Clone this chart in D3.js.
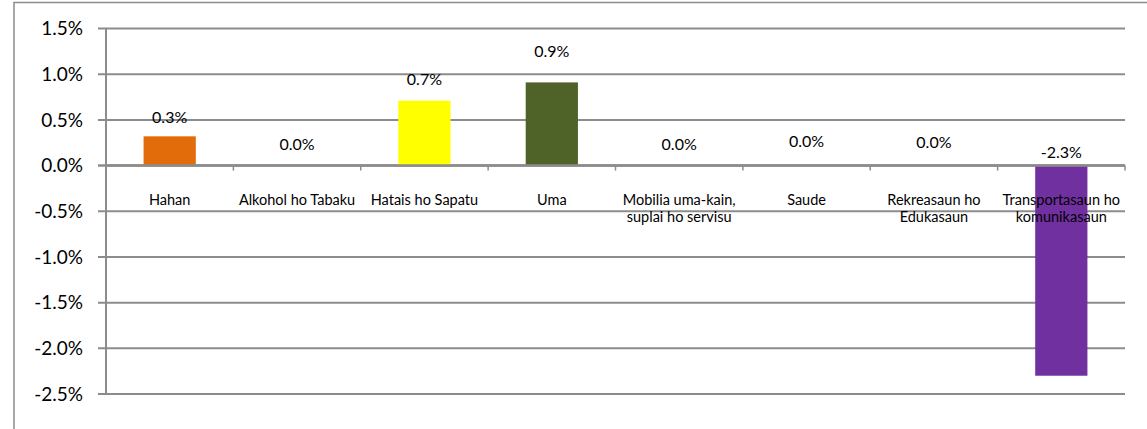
<!DOCTYPE html>
<html><head><meta charset="utf-8">
<script src="https://cdn.jsdelivr.net/npm/d3@7"></script>
<style>
body{margin:0;background:#fff;}
svg{display:block;font-family:Lato,"Open Sans",sans-serif;}
</style></head>
<body><svg id="c" width="1147" height="429"></svg>
<script>
const categories = ["Hahan","Alkohol ho Tabaku","Hatais ho Sapatu","Uma","Mobilia uma-kain,\nsuplai ho servisu","Saude","Rekreasaun ho\nEdukasaun","Transportasaun ho\nkomunikasaun"];
const values = [0.32, 0.0, 0.71, 0.91, 0.0, 0.0, 0.0, -2.30];
const valueLabels = ["0.3%","0.0%","0.7%","0.9%","0.0%","0.0%","0.0%","-2.3%"];
const barColors = ["#E36C0A","#A6A6A6","#FFFF00","#4F6228","#A6A6A6","#A6A6A6","#A6A6A6","#7030A0"];
const yTicks = [1.5,1.0,0.5,0.0,-0.5,-1.0,-1.5,-2.0,-2.5];

// layout: small manual nudges of the data labels (as placed in the original chart)
const labelNudge = [0,-2,-2,-12,-2,-5,-4,0];

const svg = d3.select("#c");
const grid = "#8c8c8c";
// outer frame
svg.append("rect").attr("x",14).attr("y",2.5).attr("width",1200).attr("height",500)
  .attr("fill","none").attr("stroke",grid).attr("stroke-width",1.5);

const x = d3.scaleBand().domain(categories).range([106,1125]).paddingInner(0.59).paddingOuter(0.295);
const xb = d3.scaleBand().domain(categories).range([106,1125]);
const y = d3.scaleLinear().domain([-2.5,1.5]).range([394,28.5]);

// gridlines
svg.append("g").selectAll("line").data(yTicks).join("line")
  .attr("x1",98).attr("x2",1125).attr("y1",d=>y(d)).attr("y2",d=>y(d))
  .attr("stroke",grid).attr("stroke-width",d=>d===0?2.5:2);

// y axis line
svg.append("line").attr("x1",106).attr("x2",106).attr("y1",y(1.5)).attr("y2",y(-2.5))
  .attr("stroke",grid).attr("stroke-width",2);

// y tick labels
svg.append("g").selectAll("text").data(yTicks).join("text")
  .attr("x",83).attr("y",d=>y(d)).attr("dy","0.36em").attr("text-anchor","end")
  .attr("font-size",19).attr("fill","#000").text(d=>d3.format(".1f")(d).replace("\u2212","-")+"%");

// x category ticks
svg.append("g").selectAll("line").data(d3.range(categories.length+1)).join("line")
  .attr("x1",i=>106+xb.step()*i).attr("x2",i=>106+xb.step()*i)
  .attr("y1",y(0)).attr("y2",y(0)+5).attr("stroke",grid).attr("stroke-width",1.5);

// bars
svg.append("g").selectAll("rect").data(values).join("rect")
  .attr("x",(d,i)=>x(categories[i])).attr("width",x.bandwidth())
  .attr("y",d=>y(Math.max(0,d))).attr("height",d=>Math.abs(y(d)-y(0)))
  .attr("fill",(d,i)=>barColors[i]);

// redraw zero line over bar bases
svg.append("line").attr("x1",106).attr("x2",1125).attr("y1",y(0)).attr("y2",y(0))
  .attr("stroke",grid).attr("stroke-width",2.5);

// value labels
svg.append("g").selectAll("text").data(values).join("text")
  .attr("x",(d,i)=>xb(categories[i])+xb.bandwidth()/2)
  .attr("y",(d,i)=>(d>=0?y(d)-19:y(0)-13)+labelNudge[i]).attr("dy","0.36em").attr("text-anchor","middle")
  .attr("font-size",16).attr("fill","#000").text((d,i)=>valueLabels[i]);

// category labels
const cl = svg.append("g").selectAll("text").data(categories).join("text")
  .attr("x",d=>xb(d)+xb.bandwidth()/2).attr("y",200).attr("text-anchor","middle")
  .attr("font-size",14.5).attr("fill","#000");
cl.each(function(d){
  const t = d3.select(this);
  d.split("\n").forEach((line,k)=>{
    t.append("tspan").attr("x",xb(d)+xb.bandwidth()/2).attr("y",200+k*16.7).attr("dy","0.36em").text(line);
  });
});
</script></body></html>
